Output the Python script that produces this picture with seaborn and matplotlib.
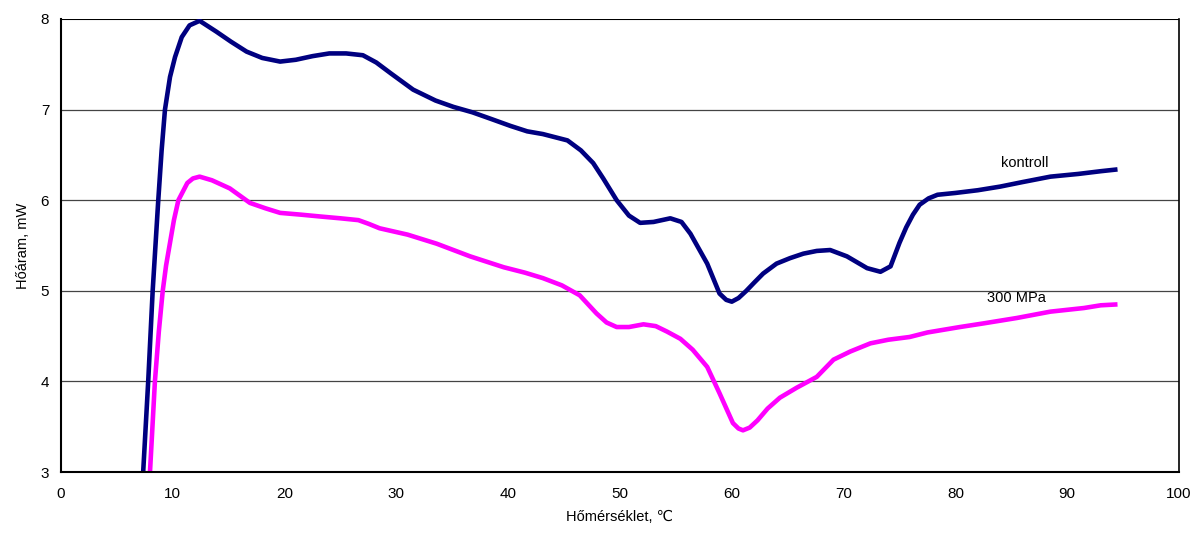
import matplotlib
matplotlib.use("Agg")
import matplotlib.pyplot as plt
import seaborn as sns
import pandas as pd

# kontroll series
kontroll_x = [7.35, 7.8, 8.2, 8.7, 9.0, 9.3, 9.75, 10.2, 10.8, 11.5, 12.4, 13.9, 15.2, 16.6,
              18.0, 19.6, 21.0, 22.5, 24.0, 25.5, 27.0, 28.2, 29.5, 31.5, 33.5, 35.1, 36.8,
              38.4, 40.2, 41.7, 43.1, 45.3, 46.5, 47.6, 48.5, 49.7, 50.8, 51.8, 53.0, 54.5,
              55.5, 56.3, 57.8, 58.9, 59.5, 60.0, 60.6, 61.3, 62.0, 62.8, 64.0, 65.2, 66.4,
              67.6, 68.8, 70.3, 72.1, 73.3, 74.2, 75.0, 75.6, 76.2, 76.8, 77.6, 78.4, 80.0,
              82.0, 84.0, 86.0, 88.5, 91.0, 93.0, 94.5]
kontroll_y = [3.0, 4.0, 5.0, 6.0, 6.55, 7.0, 7.36, 7.58, 7.80, 7.93, 7.98, 7.86, 7.75, 7.64,
              7.57, 7.53, 7.55, 7.59, 7.62, 7.62, 7.60, 7.52, 7.40, 7.22, 7.10, 7.03, 6.97,
              6.90, 6.82, 6.76, 6.73, 6.66, 6.55, 6.41, 6.24, 6.00, 5.83, 5.75, 5.76, 5.80,
              5.76, 5.63, 5.30, 4.97, 4.90, 4.88, 4.92, 5.00, 5.09, 5.19, 5.30, 5.36, 5.41,
              5.44, 5.45, 5.38, 5.25, 5.21, 5.27, 5.53, 5.70, 5.84, 5.95, 6.02, 6.06, 6.08,
              6.11, 6.15, 6.20, 6.26, 6.29, 6.32, 6.34]

# 300 MPa series
mpa_x = [7.96, 8.4, 8.75, 9.1, 9.4, 9.75, 10.1, 10.5, 11.3, 11.8, 12.4, 13.5, 15.1, 16.9,
         18.3, 19.6, 21.5, 23.2, 25.0, 26.6, 27.5, 28.5, 31.0, 33.6, 35.1, 36.6, 38.1,
         39.6, 41.5, 43.1, 44.8, 46.4, 47.9, 48.8, 49.7, 50.8, 52.1, 53.2, 54.2, 55.4,
         56.5, 57.8, 58.9, 60.1, 60.6, 61.0, 61.6, 62.3, 63.2, 64.3, 65.8, 67.6, 69.1,
         70.6, 72.4, 74.0, 75.9, 77.5, 80.4, 82.5, 85.5, 88.5, 91.5, 93.0, 94.5]
mpa_y = [3.0, 4.0, 4.55, 5.0, 5.28, 5.53, 5.78, 6.0, 6.19, 6.24, 6.26, 6.22, 6.13, 5.97,
         5.91, 5.86, 5.84, 5.82, 5.80, 5.78, 5.74, 5.69, 5.62, 5.52, 5.45, 5.38, 5.32,
         5.26, 5.20, 5.14, 5.06, 4.95, 4.75, 4.65, 4.60, 4.60, 4.63, 4.61, 4.55, 4.47,
         4.35, 4.16, 3.87, 3.54, 3.48, 3.46, 3.49, 3.57, 3.70, 3.82, 3.93, 4.05, 4.24,
         4.33, 4.42, 4.46, 4.49, 4.54, 4.60, 4.64, 4.70, 4.77, 4.81, 4.84, 4.85]

x_ticks = [0, 10, 20, 30, 40, 50, 60, 70, 80, 90, 100]
y_ticks = [3, 4, 5, 6, 7, 8]

series_names = ["kontroll", "300 MPa"]
colors = {"kontroll": "#000080", "300 MPa": "#FF00FF"}

df = pd.concat([
    pd.DataFrame({"T": kontroll_x, "H": kontroll_y, "s": "kontroll"}),
    pd.DataFrame({"T": mpa_x, "H": mpa_y, "s": "300 MPa"}),
])

sns.set_style("white")
plt.rcParams["font.family"] = ["Liberation Sans", "DejaVu Sans"]
plt.rcParams["text.color"] = "black"
plt.rcParams["axes.labelcolor"] = "black"

fig = plt.figure(figsize=(11.99, 5.39), dpi=100)
ax = fig.add_axes([61/1199, 1 - 472/539, (1179-61)/1199, (472-19)/539])

for name in series_names:
    sub = df[df["s"] == name]
    sns.lineplot(data=sub, x="T", y="H", ax=ax, color=colors[name], linewidth=3.3,
                 sort=False, estimator=None, legend=False, solid_capstyle="butt",
                 solid_joinstyle="round")

ax.set_xlim(0, 100)
ax.set_ylim(3, 8)
ax.set_xticks(x_ticks)
ax.set_yticks(y_ticks)
for yv in y_ticks[1:-1]:
    ax.axhline(yv, color="#444444", linewidth=0.9, zorder=0)
ax.axhline(8, color="black", linewidth=1.5, zorder=0)

for side in ["left", "bottom", "right"]:
    ax.spines[side].set_visible(True)
    ax.spines[side].set_color("black")
ax.spines["left"].set_linewidth(1.5)
ax.spines["bottom"].set_linewidth(1.5)
ax.spines["right"].set_linewidth(1.2)
ax.spines["top"].set_visible(False)

ax.tick_params(axis="both", direction="out", length=5, width=1.2, labelsize=11,
               colors="black", labelcolor="black")
ax.tick_params(axis="x", pad=6)
ax.set_xlabel("Hőmérséklet, ℃", fontsize=10.5, labelpad=6, color="black")
ax.set_ylabel("Hőáram, mW", fontsize=10.5, labelpad=8, color="black")

ax.text(86.2, 6.41, "kontroll", fontsize=10.5, ha="center", va="center", color="black")
ax.text(85.5, 4.92, "300 MPa", fontsize=10.5, ha="center", va="center", color="black")

fig.savefig("out.png", dpi=100)
